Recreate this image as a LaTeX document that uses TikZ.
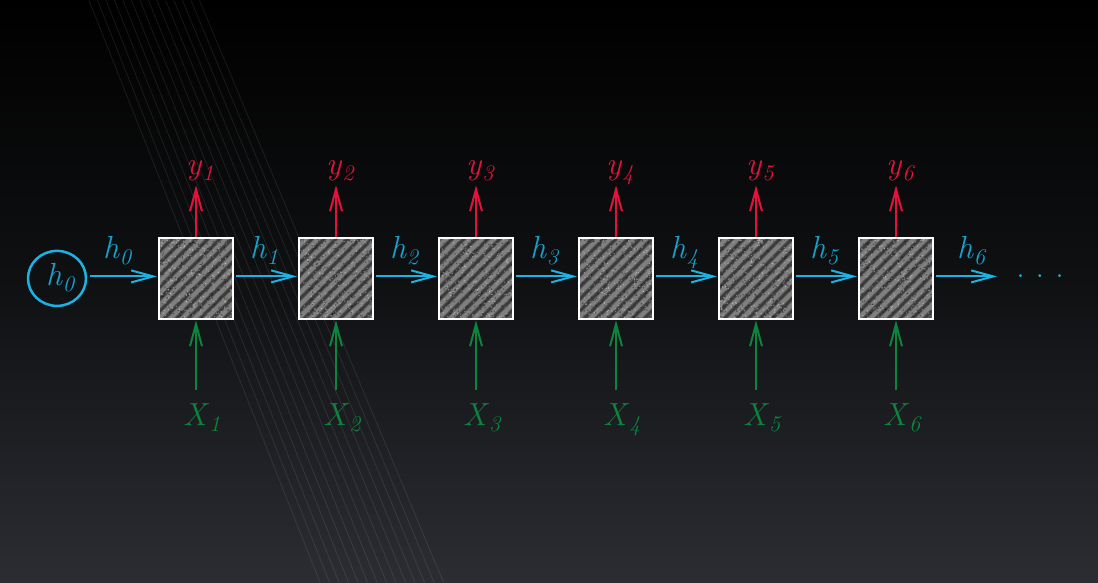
\documentclass[tikz,border=0pt]{standalone}
\usepackage{fontspec}
\usetikzlibrary{arrows.meta,shapes.geometric,calc}
\definecolor{hcol}{RGB}{28,178,228}
\definecolor{hlab}{RGB}{24,160,205}
\definecolor{ycol}{RGB}{228,18,58}
\definecolor{xcol}{RGB}{12,132,62}
\definecolor{bgmid}{RGB}{16,17,19}
\definecolor{bgbot}{RGB}{44,45,51}
\definecolor{cellfill}{RGB}{92,92,92}
\newcommand{\lbl}[2]{\textit{#1}\textsubscript{\textit{#2}}}
\pgfmathsetseed{7}
\begin{document}
\begin{tikzpicture}[x=1pt,y=-1pt,
  cellbox/.style={draw=white, line width=2pt, fill=cellfill, minimum width=74pt, minimum height=81pt, inner sep=0pt,
    path picture={
      \foreach \i in {-70,-58,...,70}{
        \draw[white,opacity=0.22,line width=4pt] ([xshift=\i pt]path picture bounding box.center) ++(-60,60) -- ++(120,-120);
        \draw[black,opacity=0.35,line width=2.5pt] ([xshift=\i pt+6pt]path picture bounding box.center) ++(-60,60) -- ++(120,-120);
      }
      \foreach \n in {1,...,260}{
        \fill[white,opacity=0.35] ([shift={(rnd*76-38,rnd*84-42)}]path picture bounding box.center) circle (0.7);
      }
      \foreach \n in {1,...,200}{
        \fill[black,opacity=0.4] ([shift={(rnd*76-38,rnd*84-42)}]path picture bounding box.center) circle (0.8);
      }
    }},
  hstate/.style={ellipse, draw=hcol, line width=2.5pt, minimum width=58pt, minimum height=55pt, inner sep=0pt},
  tip/.style={-{Straight Barb[length=22pt,width=12pt,line width=2pt]}},
  harrow/.style={draw=hcol, line width=2.2pt, tip},
  yarrow/.style={draw=ycol, line width=2.2pt, tip},
  xarrow/.style={draw=xcol, line width=2.2pt, tip},
  lab/.style={font=\fontsize{32}{36}\selectfont, inner sep=0pt, anchor=base west},
  hlabel/.style={lab, text=hlab},
  ylabel/.style={lab, text=ycol},
  xlabel/.style={lab, text=xcol}
]
% background
\fill[top color=black, bottom color=bgbot, middle color=bgmid] (0,0) rectangle (1098,582);
\foreach \k in {0,...,13}{
  \draw[white, opacity=0.09, line width=0.8pt] (89+8.5*\k,0) -- (320+9.5*\k,582);
}
\useasboundingbox (0,0) rectangle (1098,582);

% initial state
\node[hstate] (hc) at (57,278) {};
\node[hlabel] (hct) at (46,285) {\lbl{h}{0}};

% cells
\foreach \i in {1,...,6}{
  \pgfmathsetmacro{\cx}{196+140*(\i-1)}
  \node[cellbox] (c\i) at (\cx,278.5) {};
  \coordinate (ya\i) at (\cx,185);
  \coordinate (xb\i) at (\cx,390);
  \node[ylabel] (yl\i) at (\cx-10,174) {\lbl{y}{\i}};
  \node[xlabel] (xl\i) at (\cx-13,425) {\lbl{X}{\i}};
  \draw[yarrow] (c\i.north) -- (ya\i);
  \draw[xarrow] (xb\i) -- (c\i.south);
}

% recurrent arrows
\draw[harrow, shorten <=3pt, shorten >=1pt] ([yshift=2pt]hc.east) -- ([yshift=2.5pt]c1.west);
\node[hlabel] (hl0) at (103,258) {\lbl{h}{0}};
\foreach \i [evaluate=\i as \j using int(\i+1)] in {1,...,5}{
  \draw[harrow, shorten <=2pt, shorten >=1pt] ([yshift=2.5pt]c\i.east) -- ([yshift=2.5pt]c\j.west);
  \node[hlabel] (hl\i) at ($(c\i.east)!0.5!(c\j.west)+(-16,-20.5)$) {\lbl{h}{\i}};
}
\coordinate (hend) at (997,276);
\draw[harrow, shorten <=2pt] ([yshift=2.5pt]c6.east) -- (hend);
\node[hlabel] (hl6) at (957,258) {\lbl{h}{6}};
\node[font=\fontsize{34}{36}\selectfont, text=hcol, inner sep=0pt, anchor=base] (dots) at (1040,277) {.\hspace{11pt}.\hspace{11pt}.};
\end{tikzpicture}
\end{document}
